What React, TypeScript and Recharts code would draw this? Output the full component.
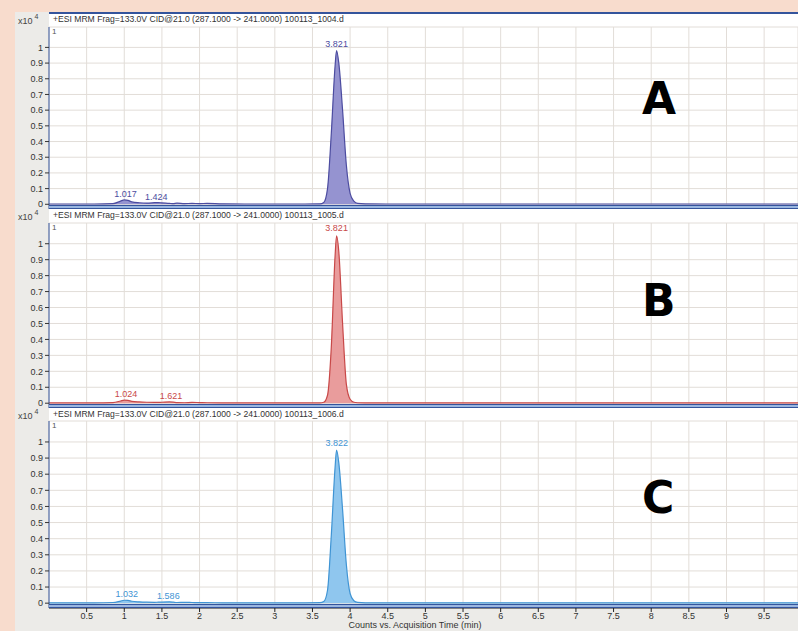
import { AreaChart, Area, XAxis, YAxis, CartesianGrid, ReferenceDot } from 'recharts';

// acquisition time (min), shared by the three traces
const times = [
  0, 0.3, 0.6, 0.85, 0.95, 1.0, 1.05, 1.1, 1.2, 1.3, 1.4, 1.45, 1.5, 1.6, 1.65, 1.7, 1.8, 1.9, 2.0, 2.1,
  2.3, 2.6, 3.0, 3.4, 3.6, 3.65, 3.7, 3.75, 3.8, 3.82, 3.85, 3.9, 3.95, 4.0, 4.05, 4.1, 4.2, 4.5, 5.0, 6.0,
  7.0, 8.0, 9.0, 9.95,
];

// counts (x10^4)
const countsA = [
  0.002, 0.002, 0.002, 0.004, 0.02, 0.028, 0.025, 0.015, 0.01, 0.008, 0.01, 0.011, 0.009, 0.006, 0.004, 0.007, 0.004, 0.006, 0.004, 0.006,
  0.003, 0.002, 0.002, 0.002, 0.003, 0.012, 0.1, 0.45, 0.88, 0.98, 0.9, 0.6, 0.25, 0.07, 0.02, 0.006, 0.003, 0.002, 0.002, 0.002,
  0.002, 0.002, 0.002, 0.002,
];
const countsB = [
  0.002, 0.002, 0.002, 0.004, 0.014, 0.02, 0.018, 0.012, 0.008, 0.006, 0.005, 0.005, 0.006, 0.008, 0.007, 0.004, 0.003, 0.005, 0.004, 0.003,
  0.002, 0.002, 0.002, 0.002, 0.002, 0.006, 0.05, 0.35, 0.92, 1.05, 0.95, 0.5, 0.12, 0.025, 0.006, 0.003, 0.002, 0.002, 0.002, 0.002,
  0.002, 0.002, 0.002, 0.002,
];
const countsC = [
  0.002, 0.002, 0.002, 0.004, 0.013, 0.018, 0.017, 0.012, 0.008, 0.006, 0.005, 0.006, 0.007, 0.008, 0.006, 0.004, 0.005, 0.004, 0.003, 0.003,
  0.002, 0.002, 0.002, 0.002, 0.003, 0.01, 0.08, 0.42, 0.84, 0.95, 0.87, 0.58, 0.24, 0.06, 0.015, 0.005, 0.002, 0.002, 0.002, 0.002,
  0.002, 0.002, 0.002, 0.002,
];

const peaksA = [
  { t: 1.017, v: 0.028, label: '1.017' },
  { t: 1.424, v: 0.011, label: '1.424' },
  { t: 3.821, v: 0.98, label: '3.821' },
];
const peaksB = [
  { t: 1.024, v: 0.02, label: '1.024' },
  { t: 1.621, v: 0.008, label: '1.621' },
  { t: 3.821, v: 1.05, label: '3.821' },
];
const peaksC = [
  { t: 1.032, v: 0.018, label: '1.032' },
  { t: 1.586, v: 0.008, label: '1.586' },
  { t: 3.822, v: 0.95, label: '3.822' },
];

const headers = [
  '+ESI MRM Frag=133.0V CID@21.0 (287.1000 -> 241.0000) 100113_1004.d',
  '+ESI MRM Frag=133.0V CID@21.0 (287.1000 -> 241.0000) 100113_1005.d',
  '+ESI MRM Frag=133.0V CID@21.0 (287.1000 -> 241.0000) 100113_1006.d',
];

const xTicks = [0.5, 1, 1.5, 2, 2.5, 3, 3.5, 4, 4.5, 5, 5.5, 6, 6.5, 7, 7.5, 8, 8.5, 9, 9.5];
const yTicks = [0, 0.1, 0.2, 0.3, 0.4, 0.5, 0.6, 0.7, 0.8, 0.9, 1];

const FONT = '"Liberation Sans", Arial, sans-serif';
const GRID = '#e2ddd8';
const FRAME = '#34549c';

type Peak = { t: number; v: number; label: string };

interface PanelProps {
  top: number;
  height: number;
  marginTop: number;
  counts: number[];
  peaks: Peak[];
  stroke: string;
  fill: string;
  header: string;
  letter: string;
  letterTop: number;
  mainOffset: number;
  withXAxis?: boolean;
}

function Panel({ top, height, marginTop, counts, peaks, stroke, fill, header, letter, letterTop, mainOffset, withXAxis }: PanelProps) {
  const data = times.map((t, i) => ({ t, v: counts[i] }));
  return (
    <>
      <div style={{ position: 'absolute', left: 15, top }}>
        <AreaChart width={783} height={height} data={data} margin={{ top: marginTop, right: 0, bottom: 0, left: 0 }}>
          <CartesianGrid stroke={GRID} fill="#fff" />
          <XAxis
            type="number"
            dataKey="t"
            domain={[0, 9.95]}
            ticks={xTicks}
            interval={0}
            allowDataOverflow
            hide={!withXAxis}
            height={23}
            tick={{ fontSize: 9, fill: '#333', fontFamily: FONT }}
            tickSize={4}
            tickMargin={1}
            axisLine={{ stroke: '#222' }}
            tickLine={{ stroke: '#222' }}
          />
          <YAxis
            type="number"
            domain={[-0.03, 1.13]}
            ticks={yTicks}
            interval={0}
            allowDataOverflow
            width={34}
            tick={{ fontSize: 9, fill: '#333', fontFamily: FONT }}
            tickSize={4}
            tickMargin={2}
            axisLine={{ stroke: FRAME }}
            tickLine={{ stroke: '#333' }}
          />
          <Area type="monotone" dataKey="v" stroke={stroke} strokeWidth={1.2} fill={fill} fillOpacity={1} isAnimationActive={false} />
          {peaks.map((p, i) => (
            <ReferenceDot
              key={i}
              x={p.t}
              y={p.v}
              r={0}
              stroke="none"
              fill="none"
              label={{ value: p.label, position: 'top', offset: p.v > 0.5 ? mainOffset : 3, fontSize: 9, fill: stroke, fontFamily: FONT }}
            />
          ))}
        </AreaChart>
      </div>
      <div style={{ position: 'absolute', left: 18, top: top + 1, fontSize: 9, color: '#444', fontFamily: FONT }}>
        x10<sup style={{ fontSize: 7, position: 'relative', top: -1, marginLeft: 2 }}>4</sup>
      </div>
      <div style={{ position: 'absolute', left: 53, top: top + 1, fontSize: 8.6, color: '#333', fontFamily: FONT, whiteSpace: 'nowrap' }}>
        {header}
      </div>
      <div style={{ position: 'absolute', left: 52, top: top + marginTop, fontSize: 8, color: '#555', fontFamily: FONT }}>1</div>
      <div style={{ position: 'absolute', left: 642, top: letterTop, fontSize: 44, fontWeight: 700, color: '#000', fontFamily: '"DejaVu Sans", sans-serif', lineHeight: 1 }}>
        {letter}
      </div>
    </>
  );
}

function Separator({ top }: { top: number }) {
  return (
    <div
      style={{
        position: 'absolute',
        left: 49,
        top,
        width: 749,
        height: 2,
        background: '#9ab6e0',
        borderTop: `1px solid ${FRAME}`,
        borderBottom: `1px solid ${FRAME}`,
      }}
    />
  );
}

export default function App() {
  return (
    <div style={{ position: 'relative', width: 798, height: 631, background: '#f8dccd', overflow: 'hidden' }}>
      <style>{'body{margin:0}'}</style>
      <div style={{ position: 'absolute', left: 15, top: 12, width: 783, height: 619, background: '#ecebe8' }} />
      <div style={{ position: 'absolute', left: 49, top: 13, width: 749, height: 595, background: '#fff' }} />
      <Panel top={13} height={196} marginTop={14} counts={countsA} peaks={peaksA} stroke="#4c4ca0" fill="#9593d0" header={headers[0]} letter="A" letterTop={77} mainOffset={4} />
      <Panel top={209} height={199} marginTop={14} counts={countsB} peaks={peaksB} stroke="#c84848" fill="#e99c9c" header={headers[1]} letter="B" letterTop={279} mainOffset={5} />
      <Panel top={408} height={223} marginTop={13} counts={countsC} peaks={peaksC} stroke="#3f94d4" fill="#8fc6ee" header={headers[2]} letter="C" letterTop={476} mainOffset={4} withXAxis />
      <div style={{ position: 'absolute', left: 49, top: 12, width: 749, height: 2, background: FRAME }} />
      <Separator top={205} />
      <Separator top={404} />
      <Separator top={604} />
      <div style={{ position: 'absolute', left: 0, width: 830, top: 620, textAlign: 'center', fontSize: 9, color: '#333', fontFamily: FONT }}>
        Counts vs. Acquisition Time (min)
      </div>
    </div>
  );
}
